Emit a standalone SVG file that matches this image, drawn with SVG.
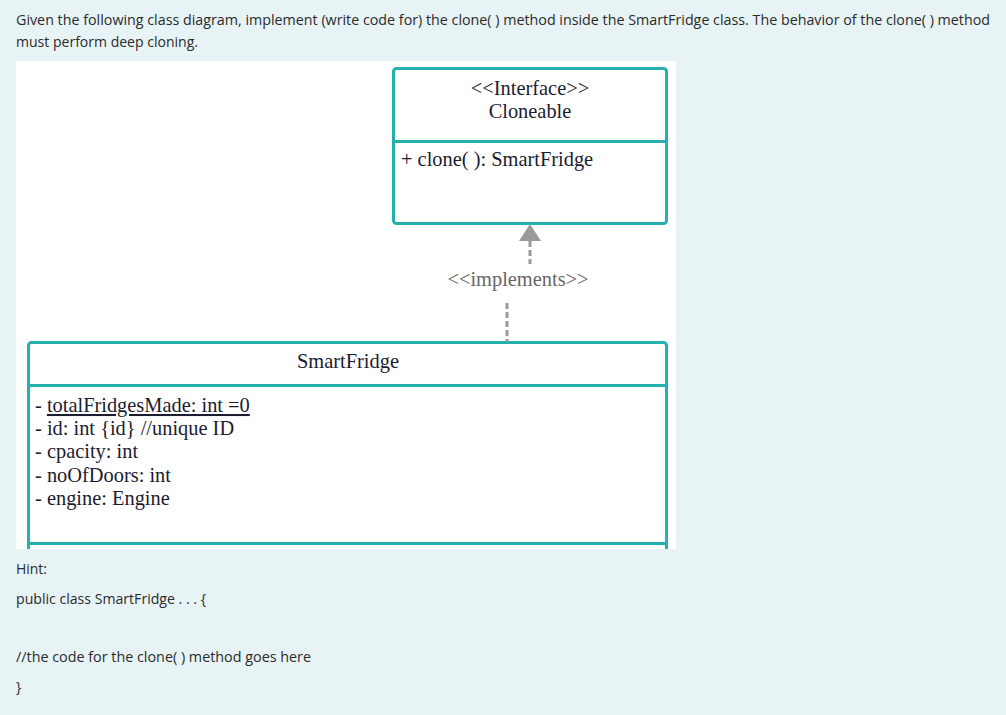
<svg xmlns="http://www.w3.org/2000/svg" width="1006" height="715" viewBox="0 0 1006 715">
<style>
.hdr{font-family:"Open Sans","Noto Sans",sans-serif;font-size:14px;fill:#2b2b2b}
.uml{font-family:"Liberation Serif","Times New Roman",serif;font-size:20.4px;fill:#1c1c30}
.box{fill:#ffffff;stroke:#24b0ac;stroke-width:3}
.div{stroke:#24b0ac;stroke-width:3}
.dash{stroke:#9a9a9a;stroke-width:3;stroke-dasharray:6,3;fill:none}
</style>
<rect x="0" y="0" width="1006" height="715" fill="#e7f3f5"/>
<text class="hdr" x="16" y="25" textLength="974" lengthAdjust="spacingAndGlyphs">Given the following class diagram, implement (write code for) the clone( ) method inside the SmartFridge class. The behavior of the clone( ) method</text>
<text class="hdr" x="16" y="47" textLength="182" lengthAdjust="spacingAndGlyphs">must perform deep cloning.</text>
<rect x="16" y="61" width="660" height="488" fill="#ffffff"/>
<g id="cloneable">
<rect class="box" x="393.5" y="68.5" width="273" height="155" rx="3"/>
<line class="div" x1="393.5" y1="141.5" x2="666.5" y2="141.5"/>
<text class="uml" x="530" y="95" text-anchor="middle">&lt;&lt;Interface&gt;&gt;</text>
<text class="uml" x="530" y="118" text-anchor="middle">Cloneable</text>
<text class="uml" x="401" y="166">+ clone( ): SmartFridge</text>
</g>
<g id="smartfridge">
<rect class="box" x="28.5" y="342.5" width="638" height="240" rx="3"/>
<line class="div" x1="28.5" y1="385.5" x2="666.5" y2="385.5"/>
<line class="div" x1="28.5" y1="543.5" x2="666.5" y2="543.5"/>
<text class="uml" x="348" y="368" text-anchor="middle">SmartFridge</text>
<text class="uml" x="35" y="412">- <tspan text-decoration="underline">totalFridgesMade: int =0</tspan></text>
<text class="uml" x="35" y="435">- id: int {id} //unique ID</text>
<text class="uml" x="35" y="458">- cpacity: int</text>
<text class="uml" x="35" y="482">- noOfDoors: int</text>
<text class="uml" x="35" y="505">- engine: Engine</text>
</g>
<rect x="0" y="549" width="1006" height="166" fill="#e7f3f5"/>
<rect x="676" y="61" width="330" height="488" fill="#e7f3f5"/>
<g id="connectors">
<polygon points="530,224 519,241 541,241" fill="#9a9a9a"/>
<line class="dash" x1="530" y1="241" x2="530" y2="264"/>
<text x="518" y="286" text-anchor="middle" font-family="Liberation Serif,serif" font-size="20.4" fill="#666666">&lt;&lt;implements&gt;&gt;</text>
<line class="dash" x1="507" y1="303" x2="507" y2="342"/>
</g>
<text class="hdr" x="16" y="574" textLength="31" lengthAdjust="spacingAndGlyphs">Hint:</text>
<text class="hdr" x="16" y="604" textLength="190" lengthAdjust="spacingAndGlyphs">public class SmartFridge . . . {</text>
<text class="hdr" x="16" y="662" textLength="295" lengthAdjust="spacingAndGlyphs">//the code for the clone( ) method goes here</text>
<text class="hdr" x="16" y="692">}</text>
</svg>
